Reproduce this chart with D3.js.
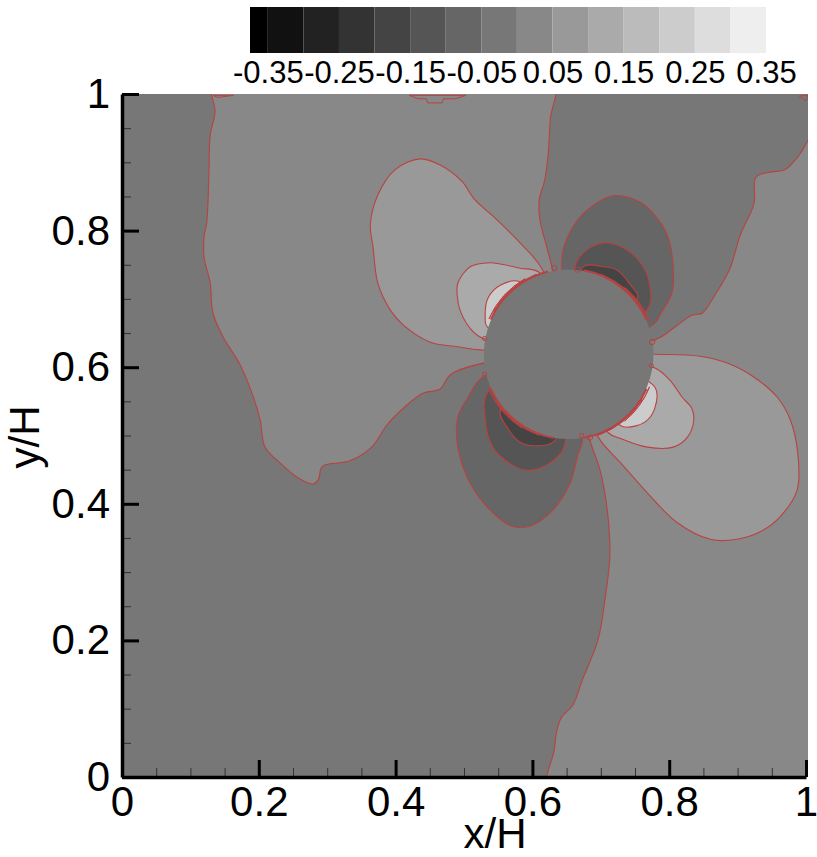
<!DOCTYPE html>
<html>
<head>
<meta charset="utf-8">
<script src="https://cdn.jsdelivr.net/npm/d3@7"></script>
<style>
  body { margin: 0; background: #fff; }
  text { font-family: "Liberation Sans", sans-serif; fill: #000; }
</style>
</head>
<body>
<div id="chart"></div>
<script>
// Legend bands, pressure coefficient levels
const bandEdges = [-0.35, -0.30, -0.25, -0.20, -0.15, -0.10, -0.05, 0, 0.05, 0.10, 0.15, 0.20, 0.25, 0.30];
const bandGrays = ['#000000', '#111111', '#222222', '#333333', '#444444', '#555555', '#666666', '#777777',
                   '#888888', '#999999', '#aaaaaa', '#bbbbbb', '#cccccc', '#dddddd', '#eeeeee'];
const legendTicks = [-0.35, -0.25, -0.15, -0.05, 0.05, 0.15, 0.25, 0.35];
const legendExtent = [-0.375, 0.35];

const majorTicks = [0, 0.2, 0.4, 0.6, 0.8, 1];
const minorTicks = [0.05, 0.1, 0.15, 0.25, 0.3, 0.35, 0.45, 0.5, 0.55, 0.65, 0.7, 0.75, 0.85, 0.9, 0.95];

// Cylinder: x/H, y/H, radius
const cylinder = [0.653, 0.619, 0.124];

// Big regions that run off the frame (the clip cuts them)
const upperLeftRegion = [[0.132,1.03],[0.136,0.974],[0.129,0.94],[0.127,0.881],[0.124,0.813],[0.12,0.791],[0.12,0.761],
  [0.129,0.723],[0.133,0.679],[0.148,0.644],[0.173,0.603],[0.19,0.562],[0.202,0.523],[0.209,0.483],[0.231,0.46],
  [0.256,0.439],[0.279,0.429],[0.287,0.435],[0.291,0.452],[0.297,0.457],[0.333,0.463],[0.365,0.483],[0.387,0.515],
  [0.417,0.545],[0.44,0.562],[0.465,0.568],[0.48,0.589],[0.528,0.606],[0.651,0.621],[0.629,0.745],[0.621,0.776],
  [0.611,0.816],[0.61,0.845],[0.618,0.874],[0.623,0.911],[0.626,0.962],[0.63,1.03]];
const lowerRightRegion = [[1.04,0.98],[0.988,0.908],[0.969,0.889],[0.95,0.886],[0.93,0.881],[0.925,0.874],[0.924,0.84],
  [0.904,0.794],[0.889,0.745],[0.867,0.706],[0.848,0.679],[0.833,0.676],[0.806,0.657],[0.779,0.64],[0.651,0.621],
  [0.684,0.493],[0.699,0.449],[0.709,0.395],[0.713,0.347],[0.713,0.318],[0.706,0.259],[0.696,0.201],[0.673,0.142],
  [0.659,0.105],[0.643,0.088],[0.636,0.069],[0.632,0.04],[0.624,-0.03],[1.06,-0.03]];

// Lobes around the cylinder, each closes through the cylinder centre
const lobeUpLeft1 = [[0.615,0.742],[0.582,0.782],[0.548,0.816],[0.515,0.846],[0.497,0.872],[0.465,0.896],[0.436,0.905],
  [0.399,0.889],[0.374,0.852],[0.363,0.808],[0.367,0.776],[0.374,0.723],[0.392,0.684],[0.411,0.662],[0.45,0.637],
  [0.49,0.63],[0.528,0.625],[0.651,0.621]];
const lobeUpLeft2 = [[0.611,0.738],[0.582,0.745],[0.553,0.751],[0.538,0.753],[0.509,0.747],[0.491,0.723],[0.49,0.706],
  [0.494,0.684],[0.509,0.657],[0.526,0.643],[0.651,0.621]];
const lobeUpLeft3 = [[0.582,0.725],[0.553,0.72],[0.535,0.701],[0.531,0.674],[0.534,0.659],[0.651,0.621]];
const lobeUpRight1 = [[0.643,0.745],[0.645,0.772],[0.659,0.805],[0.68,0.83],[0.718,0.851],[0.757,0.842],[0.776,0.826],
  [0.797,0.794],[0.806,0.745],[0.804,0.709],[0.789,0.681],[0.776,0.662],[0.651,0.621]];
const lobeUpRight2 = [[0.662,0.747],[0.674,0.767],[0.703,0.782],[0.738,0.772],[0.762,0.747],[0.772,0.717],[0.768,0.684],[0.651,0.621]];
const lobeUpRight3 = [[0.674,0.747],[0.699,0.748],[0.724,0.742],[0.746,0.717],[0.754,0.703],[0.651,0.621]];
const lobeLowLeft1 = [[0.528,0.586],[0.506,0.556],[0.491,0.527],[0.491,0.483],[0.509,0.43],[0.538,0.391],[0.57,0.367],
  [0.596,0.367],[0.63,0.391],[0.655,0.43],[0.667,0.474],[0.673,0.492],[0.651,0.621]];
const lobeLowLeft2 = [[0.535,0.564],[0.531,0.523],[0.542,0.483],[0.57,0.457],[0.594,0.449],[0.621,0.457],[0.643,0.476],[0.648,0.49],[0.651,0.621]];
const lobeLowLeft3 = [[0.553,0.537],[0.563,0.512],[0.582,0.49],[0.604,0.485],[0.633,0.493],[0.651,0.621]];
const lobeLowRight1 = [[0.779,0.619],[0.845,0.616],[0.885,0.606],[0.923,0.586],[0.958,0.556],[0.977,0.523],[0.988,0.474],
  [0.987,0.42],[0.962,0.381],[0.933,0.359],[0.899,0.348],[0.86,0.348],[0.811,0.373],[0.768,0.416],[0.728,0.461],
  [0.711,0.479],[0.696,0.498],[0.651,0.621]];
const lobeLowRight2 = [[0.779,0.599],[0.801,0.581],[0.819,0.556],[0.833,0.54],[0.836,0.523],[0.827,0.498],[0.806,0.483],
  [0.768,0.483],[0.728,0.496],[0.711,0.504],[0.651,0.621]];
const lobeLowRight3 = [[0.779,0.571],[0.779,0.54],[0.765,0.52],[0.738,0.512],[0.728,0.515],[0.651,0.621]];

// Level and outline for each region, back to front
const lobes = [
  { level: 0.075, pts: lobeUpLeft1 }, { level: 0.125, pts: lobeUpLeft2 }, { level: 0.225, pts: lobeUpLeft3 },
  { level: -0.075, pts: lobeUpRight1 }, { level: -0.125, pts: lobeUpRight2 }, { level: -0.175, pts: lobeUpRight3 },
  { level: -0.075, pts: lobeLowLeft1 }, { level: -0.125, pts: lobeLowLeft2 }, { level: -0.175, pts: lobeLowLeft3 },
  { level: 0.075, pts: lobeLowRight1 }, { level: 0.125, pts: lobeLowRight2 }, { level: 0.225, pts: lobeLowRight3 }
];

// Contour lines bunched up on the wall: start deg, end deg (clockwise from top), radius, width
const wallArcs = [
  [-66, -14, 0.1245, 2], [-60, -22, 0.126, 1], [-66, -30, 0.1275, 1],
  [10, 66, 0.1245, 2], [22, 60, 0.126, 1], [40, 68, 0.1275, 1],
  [114, 170, 0.1245, 2], [122, 160, 0.126, 1], [112, 140, 0.1275, 1],
  [190, 246, 0.1245, 2], [200, 238, 0.126, 1], [212, 248, 0.1275, 1]
];
// Small closed loops next to the wall: x/H, y/H, radius
const wallSpecks = [[0.632,0.745,0.004],[0.666,0.743,0.004],[0.775,0.637,0.004],[0.684,0.497,0.004],
  [0.53,0.642,0.003],[0.774,0.602,0.003],[0.53,0.59,0.003],[0.672,0.5,0.003]];
// Little contour flecks on the top edge
const topFleck1 = [[0.42,0.998],[0.503,0.998],[0.487,0.993],[0.47,0.993],[0.468,0.987],[0.447,0.987],[0.445,0.993],[0.433,0.993]];
const topFleck2 = [[0.133,0.998],[0.163,0.998],[0.14,0.995]];
const topFleck3 = [[1.003,0.998],[0.99,0.997],[1,0.99]];

const width = 817, height = 857;
const lineColor = '#b84242';

const svg = d3.select('#chart').append('svg')
    .attr('width', width)
    .attr('height', height)
    .style('display', 'block');

const x = d3.scaleLinear().domain([0, 1]).range([122, 806]);
const y = d3.scaleLinear().domain([0, 1]).range([777, 94]);
const color = d3.scaleThreshold().domain(bandEdges).range(bandGrays);

// Legend
const legendX = d3.scaleLinear().domain(legendExtent).range([250, 766]);
const legendBands = bandGrays.map((g, i) => ({
    from: i === 0 ? legendExtent[0] : bandEdges[i - 1],
    to: i === bandEdges.length ? legendExtent[1] : bandEdges[i],
    gray: g
}));
svg.append('g').selectAll('rect')
    .data(legendBands)
    .join('rect')
    .attr('x', d => legendX(d.from))
    .attr('width', d => legendX(d.to) - legendX(d.from))
    .attr('y', 7)
    .attr('height', 46)
    .attr('fill', d => d.gray);

// plain hyphen in the labels, as in the original
const legendAxis = svg.append('g')
    .attr('transform', 'translate(0,53)')
    .call(d3.axisBottom(legendX).tickValues(legendTicks).tickSize(0).tickPadding(8).tickFormat(d => d.toFixed(2)));
legendAxis.select('.domain').remove();
legendAxis.selectAll('text').attr('font-size', 31);

// Plot area
const clipRight = x(1.003);
svg.append('clipPath').attr('id', 'plot-clip').append('rect')
    .attr('x', x(0)).attr('y', y(1)).attr('width', clipRight - x(0)).attr('height', y(0) - y(1));

const plot = svg.append('g').attr('clip-path', 'url(#plot-clip)');
plot.append('rect')
    .attr('x', x(0)).attr('y', y(1)).attr('width', clipRight - x(0)).attr('height', y(0) - y(1))
    .attr('fill', color(-0.025));

const straight = d3.line().x(d => x(d[0])).y(d => y(d[1])).curve(d3.curveLinearClosed);
const smooth = d3.line().x(d => x(d[0])).y(d => y(d[1])).curve(d3.curveCatmullRomClosed.alpha(0.5));

plot.selectAll('.region')
    .data([upperLeftRegion, lowerRightRegion])
    .join('path')
    .attr('class', 'region')
    .attr('d', smooth)
    .attr('fill', color(0.025))
    .attr('stroke', lineColor)
    .attr('stroke-width', 1.1);

plot.selectAll('.lobe')
    .data(lobes)
    .join('path')
    .attr('class', 'lobe')
    .attr('d', d => smooth(d.pts))
    .attr('fill', d => color(d.level))
    .attr('stroke', lineColor)
    .attr('stroke-width', 1.1);

// Cylinder sits on top of the lobes
const rScale = x(cylinder[2]) - x(0);
const cyl = plot.append('g').attr('transform', `translate(${x(cylinder[0])},${y(cylinder[1])})`);
cyl.append('circle').attr('r', rScale).attr('fill', color(-0.025));

const arc = d3.arc();
cyl.selectAll('.wall-arc')
    .data(wallArcs)
    .join('path')
    .attr('class', 'wall-arc')
    .attr('d', d => {
        const r = x(d[2]) - x(0);
        return arc({ innerRadius: r, outerRadius: r, startAngle: d[0] * Math.PI / 180, endAngle: d[1] * Math.PI / 180 });
    })
    .attr('fill', 'none')
    .attr('stroke', lineColor)
    .attr('stroke-width', d => d[3]);

plot.selectAll('.speck')
    .data(wallSpecks)
    .join('circle')
    .attr('class', 'speck')
    .attr('cx', d => x(d[0]))
    .attr('cy', d => y(d[1]))
    .attr('r', d => x(d[2]) - x(0))
    .attr('fill', 'none')
    .attr('stroke', lineColor);

plot.selectAll('.fleck')
    .data([topFleck1, topFleck2, topFleck3])
    .join('path')
    .attr('class', 'fleck')
    .attr('d', straight)
    .attr('fill', 'none')
    .attr('stroke', lineColor);

// Axes, ticks point into the plot
function drawAxis(axisFn, scale, tx, ty) {
    const minor = svg.append('g')
        .attr('transform', `translate(${tx},${ty})`)
        .call(axisFn(scale).tickValues(minorTicks).tickSize(-9).tickFormat(''));
    minor.select('.domain').remove();
    minor.selectAll('line').attr('stroke', '#333').attr('stroke-width', 1);

    const major = svg.append('g')
        .attr('transform', `translate(${tx},${ty})`)
        .call(axisFn(scale).tickValues(majorTicks).tickSizeInner(-17).tickSizeOuter(0).tickPadding(axisFn === d3.axisLeft ? 12 : 9).tickFormat(d => d));
    major.select('.domain').attr('stroke-width', 3.5).attr('stroke', '#000');
    major.selectAll('line').attr('stroke', '#000').attr('stroke-width', 3);
    major.selectAll('text').attr('font-size', 42);
}
drawAxis(d3.axisLeft, y, x(0), 0);
drawAxis(d3.axisBottom, x, 0, y(0));

svg.append('text')
    .attr('x', 495)
    .attr('y', 848)
    .attr('text-anchor', 'middle')
    .attr('font-size', 42)
    .text('x/H');

svg.append('text')
    .attr('transform', 'translate(38.5,437) rotate(-90)')
    .attr('text-anchor', 'middle')
    .attr('font-size', 42)
    .text('y/H');
</script>
</body>
</html>
